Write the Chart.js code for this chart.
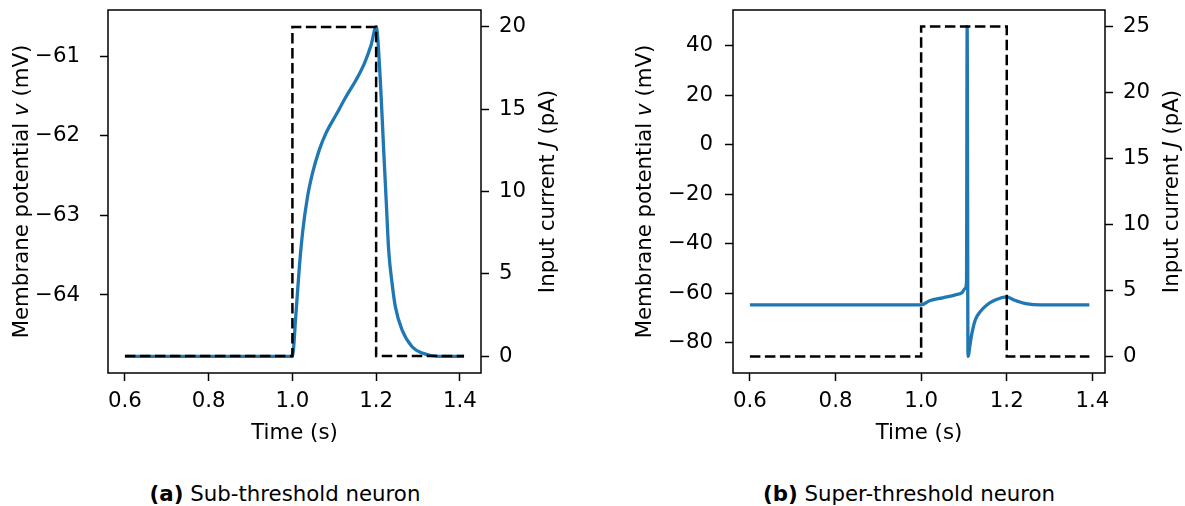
<!DOCTYPE html>
<html>
<head>
<meta charset="utf-8">
<script src="https://cdn.jsdelivr.net/npm/chart.js@4.4.0/dist/chart.umd.min.js"></script>
<style>
  body { margin: 0; background: #fff; width: 1185px; height: 506px; position: relative; overflow: hidden; font-family: 'DejaVu Sans', sans-serif; }
  .panel { position: absolute; top: 0; height: 450px; }
  #panel-a { left: 0; width: 592px; }
  #panel-b { left: 592px; width: 593px; }
  .caption { position: absolute; top: 482px; font-size: 21.3px; line-height: 24px; transform: translateX(-50%); white-space: nowrap; color: #000; }
</style>
</head>
<body>
<div class="panel" id="panel-a"><canvas id="chart-a"></canvas></div>
<div class="panel" id="panel-b"><canvas id="chart-b"></canvas></div>
<div class="caption" style="left:285px"><b>(a)</b> Sub-threshold neuron</div>
<div class="caption" style="left:909px"><b>(b)</b> Super-threshold neuron</div>
<script>
// Data - (a) sub-threshold
const timeA = [0.6, 1.0, 1.008, 1.016, 1.024, 1.036, 1.048, 1.064, 1.08, 1.104, 1.128, 1.152, 1.172, 1.188, 1.2,
    1.21, 1.218, 1.224, 1.23, 1.238, 1.246, 1.262, 1.286, 1.31, 1.35, 1.41];
const voltA = [-64.77, -64.77, -64.27, -63.69, -63.23, -62.77, -62.47, -62.18, -61.97, -61.74, -61.51, -61.30, -61.09, -60.86, -60.63,
    -61.3, -62.18, -62.81, -63.44, -63.85, -64.15, -64.44, -64.65, -64.73, -64.77, -64.77];
const stepTimeA = [0.6, 1.0, 1.0, 1.2, 1.2, 1.41];
const currentA = [0, 0, 20, 20, 0, 0];

// Data - (b) super-threshold
const timeB = [0.6, 1.0, 1.02, 1.05, 1.08, 1.095, 1.103, 1.106, 1.1075, 1.1095, 1.1147, 1.1186, 1.1264, 1.138, 1.1535, 1.1729, 1.2,
    1.217, 1.248, 1.279, 1.393];
const voltB = [-64.7, -64.7, -63.0, -61.8, -60.6, -59.8, -58.0, -55.5, 47.8, -85.5, -80.2, -76.2, -70.8, -67.4, -64.7, -62.7, -61.4,
    -62.7, -64.3, -64.7, -64.7];
const stepTimeB = [0.6, 1.0, 1.0, 1.2, 1.2, 1.393];
const currentB = [0, 0, 25, 25, 0, 0];

// Tick labels
const timeTicks = [0.6, 0.8, 1.0, 1.2, 1.4];
const voltTicksA = [-64, -63, -62, -61];
const currentTicksA = [0, 5, 10, 15, 20];
const voltTicksB = [-80, -60, -40, -20, 0, 20, 40];
const currentTicksB = [0, 5, 10, 15, 20, 25];

const FONT_SIZE = 21.3;
Chart.defaults.font.family = "'DejaVu Sans', sans-serif";
Chart.defaults.font.size = FONT_SIZE;
Chart.defaults.color = '#000';

const toPoints = (xs, ys) => xs.map((x, i) => ({ x: x, y: ys[i] }));
const minus = v => (v < 0 ? '\u2212' + Math.abs(v) : String(v));

// Box around the plot area + axis titles with italic symbols
const framePlugin = {
    id: 'frame',
    afterDatasetsDraw(chart) {
        const { ctx, chartArea: a } = chart;
        ctx.save();
        ctx.strokeStyle = '#000';
        ctx.lineWidth = 1.5;
        ctx.strokeRect(a.left, a.top, a.right - a.left, a.bottom - a.top);
        ctx.restore();
    },
    afterDraw(chart, args, opts) {
        const ctx = chart.ctx;
        (opts.titles || []).forEach(t => {
            ctx.save();
            ctx.translate(t.x, t.y);
            if (t.rotate) ctx.rotate(-Math.PI / 2);
            ctx.fillStyle = '#000';
            ctx.textBaseline = 'middle';
            ctx.textAlign = 'left';
            const fonts = t.parts.map(p => (p[1] ? 'italic ' : '') + FONT_SIZE + "px 'DejaVu Sans', sans-serif");
            let total = 0;
            t.parts.forEach((p, i) => { ctx.font = fonts[i]; total += ctx.measureText(p[0]).width; });
            let pos = -total / 2;
            t.parts.forEach((p, i) => {
                ctx.font = fonts[i];
                ctx.fillText(p[0], pos, 0);
                pos += ctx.measureText(p[0]).width;
            });
            ctx.restore();
        });
    }
};

function fixedTicks(values) {
    return scale => { scale.ticks = values.map(v => ({ value: v })); };
}

function axisGrid() {
    return { display: true, drawOnChartArea: false, drawTicks: true, tickLength: 8, tickWidth: 1.5, tickColor: '#000' };
}

function makeChart(id, cfg) {
    return new Chart(document.getElementById(id), {
        type: 'line',
        data: {
            datasets: [{
                data: toPoints(cfg.stepTime, cfg.current),
                yAxisID: 'yCur',
                borderColor: '#000',
                borderWidth: 2.5,
                borderDash: [10.5, 4.5],
                pointRadius: 0,
                tension: 0
            }, {
                data: toPoints(cfg.time, cfg.volt),
                yAxisID: 'yVolt',
                borderColor: '#1f77b4',
                borderWidth: 3.3,
                pointRadius: 0,
                cubicInterpolationMode: 'monotone'
            }]
        },
        options: {
            responsive: true,
            maintainAspectRatio: false,
            animation: false,
            events: [],
            layout: { padding: { top: 10, left: 0, right: 0, bottom: 0 } },
            plugins: {
                legend: { display: false },
                tooltip: { enabled: false },
                frame: { titles: cfg.titles }
            },
            scales: {
                x: {
                    type: 'linear',
                    min: cfg.xMin, max: cfg.xMax,
                    afterBuildTicks: fixedTicks(timeTicks),
                    afterFit: s => { s.height = cfg.xHeight; s.paddingLeft = 0; s.paddingRight = 0; },
                    border: { display: false },
                    grid: axisGrid(),
                    ticks: { padding: 8, maxRotation: 0, callback: v => v.toFixed(1) }
                },
                yVolt: {
                    type: 'linear', position: 'left',
                    min: cfg.vMin, max: cfg.vMax,
                    afterBuildTicks: fixedTicks(cfg.voltTicks),
                    afterFit: s => { s.width = cfg.leftWidth; s.paddingTop = 0; s.paddingBottom = 0; },
                    border: { display: false },
                    grid: axisGrid(),
                    ticks: { padding: cfg.leftPad, callback: v => minus(v) }
                },
                yCur: {
                    type: 'linear', position: 'right',
                    min: cfg.cMin, max: cfg.cMax,
                    afterBuildTicks: fixedTicks(cfg.currentTicks),
                    afterFit: s => { s.width = cfg.rightWidth; s.paddingTop = 0; s.paddingBottom = 0; },
                    border: { display: false },
                    grid: axisGrid(),
                    ticks: { padding: 10, callback: v => String(v) }
                }
            }
        },
        plugins: [framePlugin]
    });
}

makeChart('chart-a', {
    time: timeA, volt: voltA, stepTime: stepTimeA, current: currentA,
    voltTicks: voltTicksA, currentTicks: currentTicksA,
    xMin: 0.5595, xMax: 1.4505, vMin: -64.98, vMax: -60.42, cMin: -1.03, cMax: 21.03,
    leftWidth: 108, rightWidth: 111, xHeight: 77, leftPad: 20,
    titles: [
        { x: 22, y: 191.5, rotate: true, parts: [['Membrane potential ', false], ['v', true], [' (mV)', false]] },
        { x: 548, y: 191.5, rotate: true, parts: [['Input current ', false], ['J', true], [' (pA)', false]] },
        { x: 294.5, y: 433, rotate: false, parts: [['Time (s)', false]] }
    ]
});

makeChart('chart-b', {
    time: timeB, volt: voltB, stepTime: stepTimeB, current: currentB,
    voltTicks: voltTicksB, currentTicks: currentTicksB,
    xMin: 0.5605, xMax: 1.4295, vMin: -92.2, vMax: 54.5, cMin: -1.25, cMax: 26.25,
    leftWidth: 141, rightWidth: 80, xHeight: 77, leftPad: 12,
    titles: [
        { x: 53, y: 191.5, rotate: true, parts: [['Membrane potential ', false], ['v', true], [' (mV)', false]] },
        { x: 580, y: 191.5, rotate: true, parts: [['Input current ', false], ['J', true], [' (pA)', false]] },
        { x: 327, y: 433, rotate: false, parts: [['Time (s)', false]] }
    ]
});
</script>
</body>
</html>
